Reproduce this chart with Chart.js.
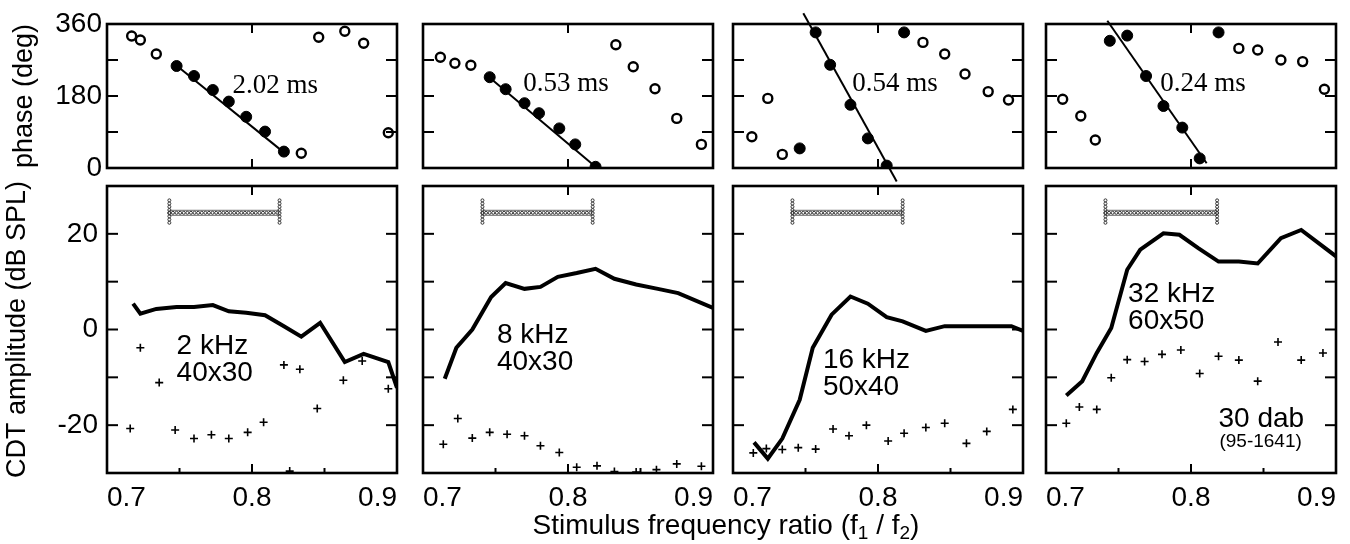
<!DOCTYPE html>
<html>
<head>
<meta charset="utf-8">
<script src="https://cdn.jsdelivr.net/npm/chart.js@4.4.1/dist/chart.umd.min.js"></script>
<style>
  body { margin: 0; background: #fff; width: 1350px; height: 544px; position: relative; overflow: hidden; }
  canvas { position: absolute; }
  #xtitle {
    position: absolute; left: 426px; top: 511px; width: 600px; text-align: center;
    font: 28px/28px "Liberation Sans", Arial, sans-serif; color: #000; z-index: 5;
  }
  #xtitle sub { font-size: 19px; line-height: 0; vertical-align: -5px; }
</style>
</head>
<body>
<div id="xtitle">Stimulus frequency ratio (f<sub>1</sub> / f<sub>2</sub>)</div>
<script>
// one entry per panel: 2, 8, 16, 32 kHz
const openRatio = [
  [0.717, 0.723, 0.734, 0.834, 0.846, 0.864, 0.877, 0.894],
  [0.712, 0.722, 0.733, 0.833, 0.845, 0.860, 0.875, 0.892],
  [0.713, 0.724, 0.734, 0.831, 0.846, 0.860, 0.876, 0.890],
  [0.7115, 0.724, 0.734, 0.833, 0.846, 0.862, 0.877, 0.892]
];
const openPhase = [
  [330, 320, 285, 37, 327, 342, 312, 88],
  [277, 262, 257, 308, 253, 198, 124, 59],
  [78, 174, 34, 314, 285, 235, 191, 170],
  [172, 130, 70, 299, 295, 270, 266, 197]
];
const fillRatio = [
  [0.748, 0.760, 0.773, 0.784, 0.796, 0.809, 0.822],
  [0.746, 0.757, 0.770, 0.780, 0.794, 0.805, 0.819],
  [0.746, 0.757, 0.767, 0.781, 0.793, 0.806, 0.818],
  [0.744, 0.756, 0.769, 0.781, 0.794, 0.806, 0.819]
];
const fillPhase = [
  [255, 230, 195, 166, 128, 91, 41],
  [227, 197, 162, 137, 99, 59, 3],
  [49, 339, 258, 158, 74, 6, 339],
  [318, 331, 230, 155, 101, 24, 339]
];
// delay fit lines (end points)
const fitRatio = [[0.746, 0.823], [0.744, 0.820], [0.7485, 0.8129], [0.7423, 0.8108]];
const fitPhase = [[262, 36], [232, 0], [387, -34], [368, 12]];

const ampRatio = [
  [0.718, 0.723, 0.734, 0.748, 0.760, 0.773, 0.784, 0.796, 0.809, 0.822, 0.834, 0.847, 0.864, 0.877, 0.894, 0.900],
  [0.715, 0.723, 0.734, 0.747, 0.757, 0.770, 0.781, 0.793, 0.806, 0.819, 0.832, 0.847, 0.862, 0.876, 0.900],
  [0.7145, 0.724, 0.734, 0.746, 0.755, 0.768, 0.781, 0.793, 0.806, 0.817, 0.833, 0.846, 0.860, 0.876, 0.892, 0.900],
  [0.714, 0.725, 0.735, 0.745, 0.756, 0.765, 0.781, 0.792, 0.805, 0.819, 0.833, 0.846, 0.862, 0.876, 0.900]
];
const ampLevel = [
  [5.4, 3.3, 4.3, 4.7, 4.7, 5.1, 3.8, 3.5, 3.0, 0.7, -1.5, 1.4, -6.8, -5.1, -6.8, -12.2],
  [-10.3, -3.8, 0, 6.8, 9.7, 8.5, 8.9, 11.0, 11.8, 12.7, 10.6, 9.4, 8.5, 7.6, 4.5],
  [-23.6, -27.0, -22.8, -14.7, -3.8, 3.1, 6.9, 5.4, 2.6, 1.7, -0.3, 0.7, 0.7, 0.7, 0.7, -0.3],
  [-13.8, -10.8, -4.9, 0.3, 12.5, 16.7, 20.1, 19.8, 17.0, 14.2, 14.2, 13.8, 19.1, 20.8, 15.3]
];
const noiseRatio = [
  [0.716, 0.723, 0.736, 0.747, 0.760, 0.772, 0.784, 0.797, 0.808, 0.822, 0.826, 0.833, 0.845, 0.863, 0.876, 0.894],
  [0.714, 0.724, 0.734, 0.746, 0.758, 0.770, 0.781, 0.794, 0.806, 0.820, 0.832, 0.847, 0.861, 0.875, 0.892],
  [0.714, 0.723, 0.734, 0.745, 0.757, 0.769, 0.780, 0.792, 0.807, 0.818, 0.833, 0.846, 0.861, 0.875, 0.893],
  [0.714, 0.723, 0.735, 0.745, 0.756, 0.768, 0.780, 0.793, 0.806, 0.819, 0.833, 0.846, 0.860, 0.876, 0.891]
];
const noiseLevel = [
  [-20.7, -3.8, -11.1, -21.0, -22.8, -22.0, -22.8, -21.5, -19.4, -7.4, -29.6, -8.3, -16.5, -10.6, -6.6, -12.4],
  [-24.0, -18.6, -22.7, -21.5, -21.9, -22.2, -24.3, -25.7, -28.8, -28.5, -29.7, -29.8, -29.3, -28.1, -28.6],
  [-25.8, -24.9, -25.1, -24.7, -25.0, -20.8, -22.2, -20.0, -23.3, -21.7, -20.5, -19.6, -23.8, -21.3, -16.7],
  [-19.6, -16.2, -16.7, -10.1, -6.3, -6.7, -5.2, -4.3, -9.2, -5.6, -6.4, -10.8, -2.6, -6.4, -4.9]
];
// primary range bar
const barFrom = [0.743, 0.741, 0.741, 0.741];
const barTo = [0.819, 0.817, 0.817, 0.818];
const barLevel = 24.4, barCapHi = 27.0, barCapLo = 22.2;

const delayText = ['2.02 ms', '0.53 ms', '0.54 ms', '0.24 ms'];
const toneText = ['2 kHz', '8 kHz', '16 kHz', '32 kHz'];
const levelText = ['40x30', '40x30', '50x40', '60x50'];
const animalText = ['30 dab', '(95-1641)'];

// where the texts sit, in data units
const delayAt = [[0.816, 207], [0.7986, 212], [0.8117, 212], [0.8083, 212]];
const toneAt = [[0.748, -2.7], [0.751, -0.4], [0.762, -5.6], [0.7566, 8.3]];

Chart.defaults.font.family = '"Liberation Sans", Arial, sans-serif';
Chart.defaults.color = '#000';

const plotLeft = [107, 423, 733, 1046];
const plotW = 290;
const rows = [
  { top: 24, bottom: 168, canvasTop: 0, canvasH: 192 },
  { top: 186, bottom: 473, canvasTop: 154, canvasH: 390 }
];

const pts = (xs, ys) => xs.map((x, i) => ({ x: x, y: ys[i] }));

const decor = {
  id: 'decor',
  afterDatasetsDraw(chart, args, o) {
    const { ctx, chartArea: a, scales: { x, y } } = chart;
    ctx.save();
    const seg = (x1, y1, x2, y2) => { ctx.beginPath(); ctx.moveTo(x1, y1); ctx.lineTo(x2, y2); ctx.stroke(); };

    if (o.bar) {
      const x0 = x.getPixelForValue(o.bar[0]), x1 = x.getPixelForValue(o.bar[1]);
      const py = y.getPixelForValue(barLevel);
      const yt = y.getPixelForValue(barCapHi), yb = y.getPixelForValue(barCapLo);
      ctx.strokeStyle = '#666';
      ctx.lineWidth = 1;
      seg(x0, py - 2.5, x1, py - 2.5);
      seg(x0, py + 2.5, x1, py + 2.5);
      ctx.strokeStyle = '#333';
      for (let px = x0; px <= x1; px += 3.6) {
        ctx.beginPath(); ctx.arc(px, py, 1.5, 0, Math.PI * 2); ctx.stroke();
      }
      [x0, x1].forEach(xe => {
        for (let yy = yt; yy <= yb; yy += 3.2) {
          ctx.beginPath(); ctx.arc(xe, yy, 1.5, 0, Math.PI * 2); ctx.stroke();
        }
      });
    }

    ctx.fillStyle = '#000';
    ctx.textBaseline = 'middle';
    (o.notes || []).forEach(n => {
      ctx.font = n.font;
      ctx.textAlign = n.align;
      ctx.fillText(n.text, x.getPixelForValue(n.x), y.getPixelForValue(n.y) + (n.dy || 0));
    });

    // frame and inward ticks
    ctx.strokeStyle = '#000';
    ctx.lineWidth = 2.6;
    ctx.strokeRect(a.left, a.top, a.width, a.height);
    ctx.lineWidth = 2;
    o.yTicks.forEach(v => {
      const py = y.getPixelForValue(v);
      seg(a.left, py, a.left + 11, py);
      seg(a.right - 11, py, a.right, py);
    });
    o.xTicks.forEach(v => {
      const px = x.getPixelForValue(v);
      seg(px, a.top, px, a.top + 9);
      seg(px, a.bottom - 9, px, a.bottom);
    });
    (o.xMinor || []).forEach(v => {
      const px = x.getPixelForValue(v);
      seg(px, a.bottom - 5, px, a.bottom);
    });
    ctx.restore();
  }
};

function makePanel(col, row) {
  const r = rows[row];
  const cLeft = col === 0 ? 0 : plotLeft[col] - 14;
  const cW = plotLeft[col] + plotW + 14 - cLeft;
  const cv = document.createElement('canvas');
  cv.width = cW;
  cv.height = r.canvasH;
  cv.style.left = cLeft + 'px';
  cv.style.top = r.canvasTop + 'px';
  document.body.appendChild(cv);

  let datasets, yOpts, notes, extra = {};
  if (row === 0) {
    datasets = [
      { data: pts(fillRatio[col], fillPhase[col]), pointRadius: 5.5, pointBackgroundColor: '#000',
        pointBorderColor: '#000', pointBorderWidth: 1 },
      { data: pts(openRatio[col], openPhase[col]), pointRadius: 4.5, pointBackgroundColor: '#fff',
        pointBorderColor: '#000', pointBorderWidth: 2.4 },
      { data: pts(fitRatio[col], fitPhase[col]), showLine: true, borderColor: '#000', borderWidth: 2,
        pointRadius: 0, clip: false }
    ];
    yOpts = { min: 0, max: 360, stepSize: 90, pad: 5, title: 'phase (deg)', titlePad: 8,
      cb: v => (v % 180 === 0 ? String(v) : '') };
    notes = [{ text: delayText[col], x: delayAt[col][0], y: delayAt[col][1], dy: 1, align: 'center',
      font: '27px "Liberation Serif", "Times New Roman", serif' }];
    extra = { yTicks: [90, 180, 270], xTicks: [0.8] };
  } else {
    datasets = [
      { data: pts(ampRatio[col], ampLevel[col]), showLine: true, borderColor: '#000', borderWidth: 4,
        pointRadius: 0 },
      { data: pts(noiseRatio[col], noiseLevel[col]), pointStyle: 'cross', pointRadius: 4,
        pointBorderColor: '#000', pointBorderWidth: 1.6 }
    ];
    yOpts = { min: -30, max: 30, stepSize: 10, pad: 9, title: 'CDT amplitude (dB SPL)', titlePad: 1,
      cb: v => (v % 20 === 0 ? String(v) : '') };
    const sans = '28px "Liberation Sans", Arial, sans-serif';
    notes = [
      { text: toneText[col], x: toneAt[col][0], y: toneAt[col][1], dy: 4, align: 'left', font: sans },
      { text: levelText[col], x: toneAt[col][0], y: toneAt[col][1], dy: 31, align: 'left', font: sans }
    ];
    if (col === 3) {
      notes.push({ text: animalText[0], x: 0.819, y: -18.3, dy: 2, align: 'left', font: sans });
      notes.push({ text: animalText[1], x: 0.8196, y: -22.9, dy: 3, align: 'left',
        font: '19px "Liberation Sans", Arial, sans-serif' });
    }
    extra = { yTicks: [-20, -10, 0, 10, 20], xTicks: [0.8], xMinor: [0.75, 0.85], bar: [barFrom[col], barTo[col]] };
  }

  const xScale = {
    type: 'linear', min: 0.7, max: 0.9, display: row === 1,
    grid: { display: false, drawTicks: false }, border: { display: false },
    ticks: { stepSize: 0.1, align: 'inner', padding: 8, autoSkip: false, maxRotation: 0,
      font: { size: 28 }, callback: v => v.toFixed(1) }
  };
  if (row === 1) xScale.afterFit = s => { s.height = 544 - r.bottom; };

  const yScale = {
    type: 'linear', min: yOpts.min, max: yOpts.max, display: col === 0,
    grid: { display: false, drawTicks: false }, border: { display: false },
    ticks: { stepSize: yOpts.stepSize, padding: yOpts.pad, autoSkip: false, font: { size: 28 },
      callback: yOpts.cb },
    title: { display: true, text: yOpts.title, font: { size: 27 }, padding: { top: yOpts.titlePad, bottom: 0 } }
  };
  if (col === 0) yScale.afterFit = s => { s.width = plotLeft[0]; };

  new Chart(cv, {
    type: 'scatter',
    data: { datasets: datasets },
    plugins: [decor],
    options: {
      responsive: false,
      animation: false,
      events: [],
      layout: {
        padding: {
          left: col === 0 ? 0 : 14,
          right: 14,
          top: r.top - r.canvasTop,
          bottom: row === 0 ? r.canvasTop + r.canvasH - r.bottom : 0
        }
      },
      plugins: {
        legend: { display: false },
        tooltip: { enabled: false },
        decor: Object.assign({ notes: notes }, extra)
      },
      scales: { x: xScale, y: yScale }
    }
  });
}

for (let row = 0; row < 2; row++) {
  for (let col = 0; col < 4; col++) makePanel(col, row);
}
</script>
</body>
</html>
